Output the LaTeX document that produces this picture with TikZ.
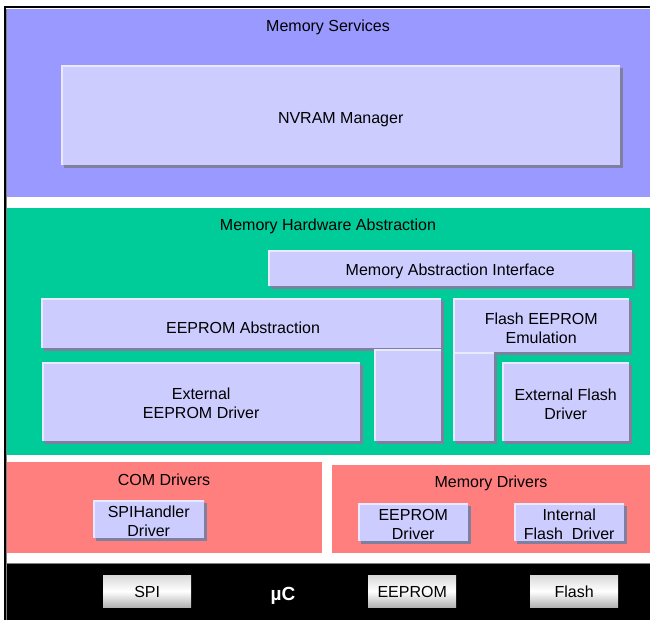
\documentclass[tikz,border=0pt]{standalone}
\usepackage{fontspec}
\setmainfont{Liberation Sans}
\definecolor{msc}{HTML}{9999FF}
\definecolor{mhc}{HTML}{00CC99}
\definecolor{drc}{HTML}{FF7F7F}
\definecolor{lav}{HTML}{CCCCFF}
\definecolor{shd}{HTML}{7F7FA0}
\definecolor{hil}{HTML}{EAEAFF}
\begin{document}
\begin{tikzpicture}[x=1pt,y=-1pt,
  every node/.style={font=\fontsize{16}{19}\selectfont, inner sep=0pt, align=center},
  layer/.style={draw=none, anchor=north west},
  box/.style={fill=lav, anchor=north west,
    preaction={fill=shd, transform canvas={shift={(3pt,-3pt)}}},
    path picture={\draw[hil, line width=3pt]
      (path picture bounding box.south west) -- (path picture bounding box.north west)
      -- (path picture bounding box.north east);}},
  % module text, set a little below the geometric centre
  txt/.style 2 args={label={[yshift=-#1pt]center:{#2}}},
  chip/.style={anchor=north west, minimum width=88pt, minimum height=32pt,
    top color=gray!30, bottom color=gray!60, middle color=white}]
\useasboundingbox (0,0) rectangle (650,620);
\fill[white] (0,0) rectangle (650,620);

% outer frame
\draw[black, line width=2pt] (5,620) -- (5,7) -- (650,7);
\draw[gray, line width=0.8pt] (6.5,620) -- (6.5,9);

% layers
\node[layer, fill=msc, minimum width=643pt, minimum height=188pt] (ms) at (7,9) {};
\node[layer, fill=mhc, minimum width=643pt, minimum height=247pt] (mha) at (7,208) {};
\node[layer, fill=drc, minimum width=315pt, minimum height=91pt] (com) at (7,462) {};
\node[layer, fill=drc, minimum width=318pt, minimum height=88pt] (memd) at (332,465) {};
\node[layer, fill=black, minimum width=643pt, minimum height=57pt] (uc) at (7,563) {};
\draw[gray, line width=1pt] (uc.north west) -- (uc.north east);

% layer titles
\node (mslbl) at (328,27) {Memory Services};
\node (mhalbl) at (328,226) {Memory Hardware Abstraction};
\node (comlbl) at (164,480) {COM Drivers};
\node (memdlbl) at (491,483) {Memory Drivers};
\node[font=\fontsize{19}{22}\selectfont\bfseries, text=white] (uclbl) at (283,596) {µC};

% modules
\node[box, minimum width=559pt, minimum height=100pt, txt={4}{NVRAM Manager}] (nvram) at (61,65) {};
\node[box, minimum width=364pt, minimum height=36pt, txt={3}{Memory Abstraction Interface}] (mai) at (268,250) {};
\node[box, minimum width=400pt, minimum height=50pt] (eeabs) at (41,298) {};
\node (eeabslbl) at (243,328) {EEPROM Abstraction};
\node[box, minimum width=176pt, minimum height=54pt, txt={3}{Flash EEPROM\\Emulation}] (fee) at (453,298) {};
\node[box, minimum width=318pt, minimum height=79pt, txt={2}{External\\EEPROM Driver}] (exee) at (42,362) {};
\node[box, minimum width=67pt, minimum height=92pt] (gap1) at (374,349) {};
\node[box, minimum width=41pt, minimum height=89pt] (gap2) at (453,352) {};
\node[box, minimum width=127pt, minimum height=79pt, txt={2.5}{External Flash\\Driver}] (exfl) at (502,362) {};

\node[box, minimum width=111pt, minimum height=38pt, txt={2}{SPIHandler\\Driver}] (spih) at (93,500) {};
\node[box, minimum width=110pt, minimum height=38pt, txt={2}{EEPROM\\Driver}] (eedrv) at (358,503) {};
\node[box, minimum width=110pt, minimum height=38pt, txt={2}{Internal\\Flash~~Driver}] (ifd) at (514,503) {};

% hardware blocks
\node[chip, txt={1}{SPI}] (spi) at (103,575) {};
\node[chip, txt={1}{EEPROM}] (eehw) at (368,575) {};
\node[chip, txt={1}{Flash}] (flhw) at (530,575) {};
\end{tikzpicture}
\end{document}
